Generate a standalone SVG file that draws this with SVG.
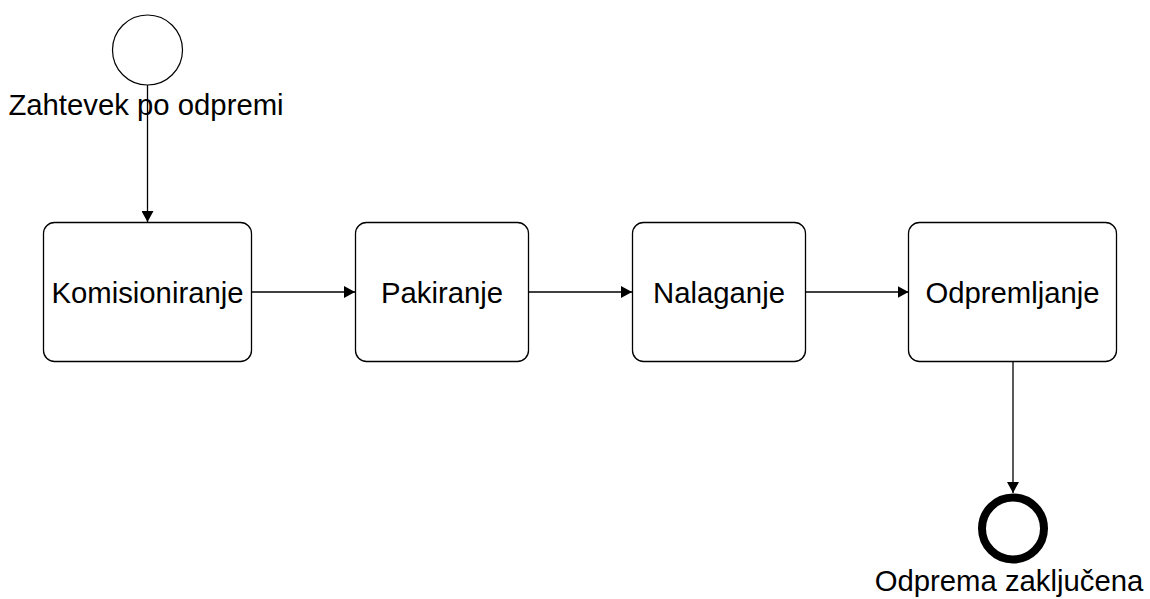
<svg xmlns="http://www.w3.org/2000/svg" width="1150" height="599" viewBox="0 0 1150 599">
  <style>
    .task { fill: #ffffff; stroke: #000000; stroke-width: 1.3; }
    .label { font-family: "Liberation Sans", Arial, sans-serif; font-size: 29.3px; fill: #000000; text-anchor: middle; }
    .flow { fill: none; stroke: #000000; stroke-width: 1.3; marker-end: url(#arrow); }
  </style>
  <defs>
    <marker id="arrow" viewBox="0 0 11 12" refX="11" refY="6" markerWidth="11" markerHeight="12" markerUnits="userSpaceOnUse" orient="auto">
      <path d="M0,0 L11,6 L0,12 Z" fill="#000000"/>
    </marker>
  </defs>
  <rect width="1150" height="599" fill="#ffffff"/>

  <g id="connectors">
    <path class="flow" d="M147.5,85 L147.5,222"/>
    <path class="flow" d="M252,292 L355,292"/>
    <path class="flow" d="M528,292 L632,292"/>
    <path class="flow" d="M805,292 L908.5,292"/>
    <path class="flow" d="M1013,362 L1013,493"/>
  </g>

  <g id="start">
    <circle cx="147.5" cy="50" r="35" fill="#ffffff" stroke="#000000" stroke-width="1.2"/>
    <text class="label" x="146" y="115">Zahtevek po odpremi</text>
  </g>

  <g id="komisioniranje">
    <rect class="task" x="43.5" y="222.5" width="208" height="139" rx="11"/>
    <text class="label" x="147.5" y="302.5">Komisioniranje</text>
  </g>

  <g id="pakiranje">
    <rect class="task" x="355.5" y="222.5" width="173" height="139" rx="11"/>
    <text class="label" x="442" y="302.5">Pakiranje</text>
  </g>

  <g id="nalaganje">
    <rect class="task" x="632.5" y="222.5" width="173" height="139" rx="11"/>
    <text class="label" x="719" y="302.5">Nalaganje</text>
  </g>

  <g id="odpremljanje">
    <rect class="task" x="908.5" y="222.5" width="208" height="139" rx="11"/>
    <text class="label" x="1012.5" y="302.5">Odpremljanje</text>
  </g>

  <g id="end">
    <circle cx="1013" cy="528.5" r="31" fill="#ffffff" stroke="#000000" stroke-width="8"/>
    <text class="label" x="1009" y="591">Odprema zaključena</text>
  </g>
</svg>
